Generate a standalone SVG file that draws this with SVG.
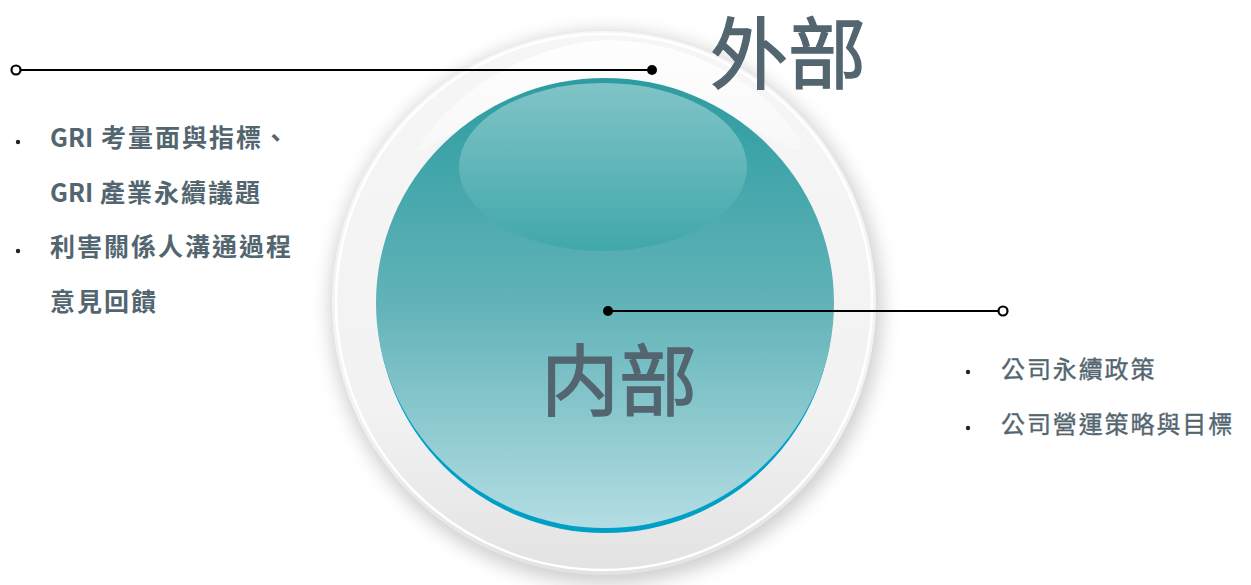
<svg xmlns="http://www.w3.org/2000/svg" width="1251" height="585" viewBox="0 0 1251 585">
<defs>
<style>
.t{font-family:"Noto Sans CJK TC","Noto Sans CJK SC","Liberation Sans",sans-serif;fill:#536670}
.lt{font-size:25px;font-weight:bold;letter-spacing:2px}
.lat{letter-spacing:0}
.rt{font-size:24px;font-weight:normal;letter-spacing:1.9px;stroke:#536670;stroke-width:0.35}
.big{font-size:78px;font-weight:normal;stroke:#536670;stroke-width:1.3}
.ln{stroke:#000;stroke-width:2.2;fill:none}
.dot{fill:#000}
.end{fill:#fff;stroke:#000;stroke-width:2.2}
.bul{fill:#222}
</style>
<filter id="sh" x="-20%" y="-20%" width="140%" height="140%">
<feGaussianBlur stdDeviation="9"/>
</filter>
<linearGradient id="ring" x1="0" y1="0" x2="0" y2="1">
<stop offset="0" stop-color="#f6f6f6"/>
<stop offset="0.7" stop-color="#f2f2f2"/>
<stop offset="1" stop-color="#e2e2e2"/>
</linearGradient>
<linearGradient id="teal" x1="0" y1="0" x2="0" y2="1">
<stop offset="0" stop-color="#2c9ca0"/>
<stop offset="0.5" stop-color="#61b3b8"/>
<stop offset="1" stop-color="#b3dde3"/>
</linearGradient>
<linearGradient id="hl" x1="0" y1="0" x2="0" y2="1">
<stop offset="0" stop-color="#8fcbce"/>
<stop offset="1" stop-color="#3da6a9"/>
</linearGradient>
<linearGradient id="wh" x1="0" y1="0" x2="0" y2="1">
<stop offset="0" stop-color="#ffffff" stop-opacity="0.9"/>
<stop offset="1" stop-color="#ffffff" stop-opacity="0.3"/>
</linearGradient>
</defs>
<rect width="1251" height="585" fill="#fff"/>
<g id="outer-circle">
<circle cx="606" cy="308" r="276" fill="#cfcfcf" filter="url(#sh)"/>
<circle cx="604" cy="303" r="272" fill="url(#ring)"/>
<circle cx="604" cy="302" r="268" fill="none" stroke="#ffffff" stroke-width="2.5"/>
<path d="M420,145 C470,70 560,40 610,40 C690,42 760,80 800,140 C805,152 795,152 785,146 C720,110 660,98 610,98 C540,100 470,120 430,146 C420,152 414,152 420,145 Z" fill="url(#wh)"/>
<text class="t big" x="710" y="83">外部</text>
</g>
<g id="inner-circle">
<ellipse cx="605" cy="306" rx="228" ry="227" fill="#00a0c6"/>
<ellipse cx="605" cy="303" rx="229" ry="225" fill="url(#teal)"/>
<ellipse cx="603" cy="167" rx="144" ry="84" fill="url(#hl)" opacity="0.85"/>
<text class="t big" x="541" y="410">内部</text>
</g>
<g id="connectors">
<line class="ln" x1="20" y1="70" x2="652" y2="70"/>
<circle class="dot" cx="652" cy="70" r="5"/>
<circle class="end" cx="16" cy="70" r="4.5"/>
<line class="ln" x1="608" y1="311" x2="999" y2="311"/>
<circle class="dot" cx="608" cy="311" r="5"/>
<circle class="end" cx="1003" cy="311" r="4.5"/>
</g>
<g id="external-list">
<circle class="bul" cx="18" cy="142" r="2.2"/>
<circle class="bul" cx="18" cy="251" r="2.2"/>
<text class="t lt" x="50" y="147"><tspan class="lat">GRI </tspan><tspan x="101">考量面與指標、</tspan></text>
<text class="t lt" x="50" y="202"><tspan class="lat">GRI </tspan><tspan x="100">產業永續議題</tspan></text>
<text class="t lt" x="50" y="256">利害關係人溝通過程</text>
<text class="t lt" x="50" y="311">意見回饋</text>
</g>
<g id="internal-list">
<circle class="bul" cx="968" cy="372" r="2.2"/>
<circle class="bul" cx="968" cy="428" r="2.2"/>
<text class="t rt" x="1001" y="378">公司永續政策</text>
<text class="t rt" x="1001" y="433">公司營運策略與目標</text>
</g>
</svg>
